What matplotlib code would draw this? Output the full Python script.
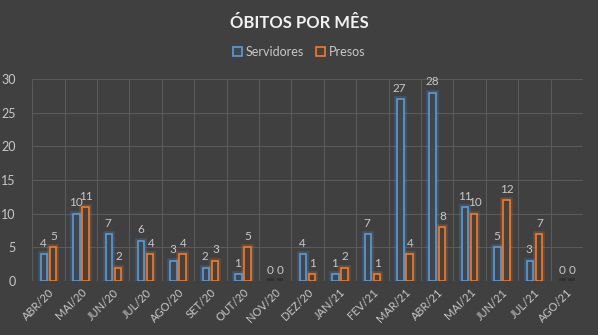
import numpy as np
import matplotlib.pyplot as plt
from matplotlib.ticker import MultipleLocator

meses = ['ABR/20', 'MAI/20', 'JUN/20', 'JUL/20', 'AGO/20', 'SET/20', 'OUT/20', 'NOV/20',
         'DEZ/20', 'JAN/21', 'FEV/21', 'MAR/21', 'ABR/21', 'MAI/21', 'JUN/21', 'JUL/21', 'AGO/21']
servidores = [4, 10, 7, 6, 3, 2, 1, 0, 4, 1, 7, 27, 28, 11, 5, 3, 0]
presos = [5, 11, 2, 4, 4, 3, 5, 0, 1, 2, 1, 4, 8, 10, 12, 7, 0]

plt.rcParams['font.family'] = ['Lato', 'DejaVu Sans']

bg = '#404040'
grid_cor = '#5a5a5a'
texto = '#c8c8c8'
azul = '#5b9bd5'
laranja = '#ed7d31'

fig = plt.figure(figsize=(5.98, 3.35), dpi=100, facecolor=bg)
ax = fig.add_axes([0.054, 0.161, 0.921, 0.603], facecolor=bg)

x = np.arange(len(meses))
w = 0.2
off = 0.14


def desenha(pos, vals, cor, fill):
    # sem borda nas barras de valor zero
    cores = [cor if v > 0 else 'none' for v in vals]
    # glow falso: borda grossa transparente por baixo
    ax.bar(pos, vals, w, facecolor='none', edgecolor=cores, linewidth=4, alpha=0.22, zorder=2)
    barras = ax.bar(pos, vals, w, facecolor=fill, edgecolor=cores, linewidth=1.2, zorder=3)
    return barras


b1 = desenha(x - off, servidores, azul, '#3f4650')
b2 = desenha(x + off, presos, laranja, '#4a4038')

for i in range(len(meses)):
    ax.text(x[i] - off - 0.02, servidores[i] + 0.8, str(servidores[i]), ha='center', va='bottom',
            color=texto, fontsize=8.5)
    ax.text(x[i] + off + 0.02, presos[i] + 0.8, str(presos[i]), ha='center', va='bottom',
            color=texto, fontsize=8.5)

ax.set_xlim(-0.5, len(meses) - 0.5)
ax.set_ylim(0, 30)
ax.yaxis.set_major_locator(MultipleLocator(5))
ax.set_xticks(x)
ax.set_xticklabels(meses, rotation=45, ha='right', rotation_mode='anchor', color=texto, fontsize=8)
ax.tick_params(axis='y', colors=texto, labelsize=9, length=0, pad=12)
ax.tick_params(axis='x', length=0, pad=4)

# grade horizontal e vertical entre categorias
for yv in range(5, 31, 5):
    ax.axhline(yv, color=grid_cor, linewidth=0.8, zorder=1)
for xv in np.arange(-0.5, len(meses), 1):
    ax.axvline(xv, color=grid_cor, linewidth=0.8, zorder=1)
for s in ax.spines.values():
    s.set_visible(False)
ax.axhline(0, color=grid_cor, linewidth=0.8, zorder=1)

fig.text(0.5, 0.93, 'ÓBITOS POR MÊS', ha='center', va='center', color='#f2f2f2',
         fontsize=12, fontweight='bold')

leg = fig.legend([b1, b2], ['Servidores', 'Presos'], loc='center', bbox_to_anchor=(0.5, 0.845),
                 ncol=2, frameon=False, fontsize=9, labelcolor=texto, handlelength=0.7,
                 handleheight=0.7, handletextpad=0.3, columnspacing=1.0)

fig.savefig('out.png', dpi=100, facecolor=bg)
